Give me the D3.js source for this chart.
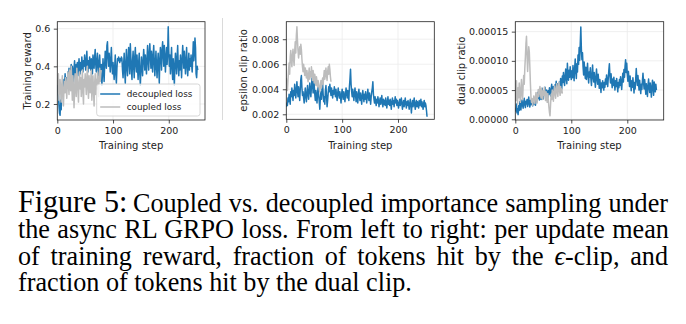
<!DOCTYPE html>
<html>
<head>
<meta charset="utf-8">
<script src="https://cdn.jsdelivr.net/npm/d3@7"></script>
<style>
  body { margin: 0; background: #fff; }
  svg { display: block; }
</style>
</head>
<body>
<svg width="686" height="324"></svg>
<script>
// ---- data (one value per training step) ----
var rewardDecoupled = [
  0.30, 0.26, 0.24, 0.19, 0.15, 0.14, 0.22, 0.17, 0.28, 0.25, 0.31, 0.27, 0.33, 0.29, 0.36, 0.30, 0.27, 0.34, 0.31, 0.37,
  0.33, 0.39, 0.35, 0.29, 0.38, 0.41, 0.34, 0.40, 0.36, 0.31, 0.39, 0.43, 0.37, 0.33, 0.41, 0.38, 0.42, 0.35, 0.40, 0.44,
  0.39, 0.36, 0.42, 0.38, 0.45, 0.41, 0.37, 0.43, 0.40, 0.46, 0.42, 0.38, 0.44, 0.48, 0.41, 0.37, 0.43, 0.39, 0.45, 0.41,
  0.38, 0.44, 0.40, 0.36, 0.46, 0.42, 0.39, 0.45, 0.49, 0.41, 0.37, 0.43, 0.47, 0.40, 0.35, 0.42, 0.46, 0.39, 0.33, 0.41,
  0.30, 0.36, 0.44, 0.38, 0.32, 0.41, 0.48, 0.43, 0.39, 0.51, 0.53, 0.45, 0.40, 0.47, 0.42, 0.37, 0.44, 0.50, 0.41, 0.36,
  0.42, 0.38, 0.33, 0.40, 0.46, 0.36, 0.31, 0.39, 0.44, 0.43, 0.45, 0.44, 0.42, 0.44, 0.43, 0.45, 0.44, 0.38, 0.34, 0.41,
  0.47, 0.37, 0.31, 0.42, 0.49, 0.39, 0.35, 0.44, 0.50, 0.42, 0.36, 0.52, 0.45, 0.38, 0.33, 0.43, 0.48, 0.40, 0.34, 0.45,
  0.50, 0.41, 0.37, 0.46, 0.39, 0.33, 0.42, 0.47, 0.36, 0.30, 0.38, 0.45, 0.40, 0.35, 0.43, 0.49, 0.44, 0.38, 0.46, 0.41,
  0.36, 0.44, 0.51, 0.43, 0.38, 0.47, 0.52, 0.45, 0.39, 0.48, 0.43, 0.37, 0.46, 0.51, 0.42, 0.35, 0.41, 0.48, 0.40, 0.34,
  0.42, 0.47, 0.39, 0.31, 0.44, 0.50, 0.45, 0.38, 0.49, 0.53, 0.46, 0.40, 0.51, 0.44, 0.37, 0.45, 0.50, 0.41, 0.47, 0.61,
  0.48, 0.40, 0.46, 0.36, 0.43, 0.50, 0.39, 0.33, 0.44, 0.38, 0.30, 0.41, 0.47, 0.42, 0.36, 0.45, 0.51, 0.40, 0.35, 0.43,
  0.38, 0.46, 0.41, 0.34, 0.44, 0.51, 0.45, 0.39, 0.48, 0.42, 0.36, 0.43, 0.50, 0.40, 0.35, 0.41, 0.47, 0.38, 0.44, 0.40,
  0.46, 0.41, 0.37, 0.45, 0.53, 0.43, 0.47, 0.55, 0.50, 0.36, 0.34, 0.40, 0.38
];
var rewardCoupled = [
  0.25, 0.31, 0.36, 0.22, 0.29, 0.33, 0.27, 0.21, 0.30, 0.35, 0.24, 0.19, 0.28, 0.32, 0.26, 0.34, 0.29, 0.23, 0.31, 0.37,
  0.30, 0.25, 0.38, 0.33, 0.27, 0.40, 0.31, 0.22, 0.35, 0.29, 0.18, 0.26, 0.36, 0.30, 0.24, 0.39, 0.33, 0.27, 0.21, 0.32,
  0.37, 0.28, 0.34, 0.24, 0.30, 0.38, 0.26, 0.20, 0.33, 0.29, 0.36, 0.31, 0.25, 0.34, 0.40, 0.28, 0.23, 0.35, 0.30, 0.26,
  0.33, 0.38, 0.22, 0.29, 0.35, 0.27, 0.19, 0.31, 0.36, 0.25, 0.33, 0.28, 0.37, 0.30, 0.24, 0.34, 0.39, 0.32, 0.36, 0.38
];
var epsDecoupled = [
  0.0026, 0.0029, 0.0027, 0.0033, 0.0030, 0.0036, 0.0032, 0.0028, 0.0038, 0.0034, 0.0041, 0.0036, 0.0031, 0.0039, 0.0035, 0.0044, 0.0038, 0.0033, 0.0040, 0.0046,
  0.0039, 0.0034, 0.0042, 0.0037, 0.0031, 0.0040, 0.0048, 0.0051, 0.0041, 0.0035, 0.0038, 0.0033, 0.0029, 0.0036, 0.0041, 0.0034, 0.0030, 0.0037, 0.0043, 0.0036,
  0.0032, 0.0039, 0.0045, 0.0038, 0.0034, 0.0042, 0.0049, 0.0044, 0.0037, 0.0050, 0.0043, 0.0036, 0.0031, 0.0039, 0.0034, 0.0029, 0.0037, 0.0042, 0.0035, 0.0030,
  0.0024, 0.0033, 0.0038, 0.0032, 0.0041, 0.0045, 0.0036, 0.0030, 0.0034, 0.0028, 0.0039, 0.0043, 0.0035, 0.0026, 0.0031, 0.0037, 0.0042, 0.0038, 0.0044, 0.0039,
  0.0035, 0.0041, 0.0037, 0.0033, 0.0039, 0.0036, 0.0042, 0.0038, 0.0034, 0.0040, 0.0035, 0.0031, 0.0037, 0.0041, 0.0036, 0.0033, 0.0038, 0.0034, 0.0029, 0.0036,
  0.0040, 0.0035, 0.0032, 0.0038, 0.0034, 0.0030, 0.0036, 0.0041, 0.0037, 0.0033, 0.0039, 0.0035, 0.0031, 0.0042, 0.0048, 0.0056, 0.0044, 0.0038, 0.0034, 0.0040,
  0.0036, 0.0031, 0.0037, 0.0041, 0.0035, 0.0030, 0.0038, 0.0034, 0.0029, 0.0036, 0.0040, 0.0034, 0.0031, 0.0037, 0.0033, 0.0028, 0.0035, 0.0039, 0.0034, 0.0030,
  0.0036, 0.0032, 0.0038, 0.0033, 0.0029, 0.0035, 0.0040, 0.0034, 0.0031, 0.0037, 0.0033, 0.0028, 0.0034, 0.0038, 0.0041, 0.0046, 0.0036, 0.0032, 0.0029, 0.0034,
  0.0030, 0.0027, 0.0032, 0.0029, 0.0034, 0.0031, 0.0026, 0.0030, 0.0033, 0.0028, 0.0031, 0.0035, 0.0029, 0.0026, 0.0032, 0.0028, 0.0031, 0.0027, 0.0033, 0.0029,
  0.0025, 0.0030, 0.0034, 0.0028, 0.0031, 0.0027, 0.0032, 0.0029, 0.0024, 0.0030, 0.0033, 0.0028, 0.0031, 0.0026, 0.0030, 0.0034, 0.0029, 0.0032, 0.0027, 0.0031,
  0.0028, 0.0025, 0.0029, 0.0032, 0.0027, 0.0030, 0.0033, 0.0028, 0.0024, 0.0029, 0.0031, 0.0026, 0.0030, 0.0033, 0.0028, 0.0025, 0.0030, 0.0027, 0.0031, 0.0028,
  0.0024, 0.0029, 0.0032, 0.0027, 0.0021, 0.0028, 0.0031, 0.0026, 0.0030, 0.0033, 0.0027, 0.0024, 0.0029, 0.0031, 0.0026, 0.0030, 0.0028, 0.0025, 0.0031, 0.0027,
  0.0029, 0.0032, 0.0026, 0.0030, 0.0027, 0.0024, 0.0029, 0.0031, 0.0026, 0.0029, 0.0027, 0.0023, 0.0018
];
var epsCoupled = [
  0.0049, 0.0044, 0.0039, 0.0047, 0.0055, 0.0061, 0.0052, 0.0066, 0.0071, 0.0063, 0.0058, 0.0067, 0.0072, 0.0064, 0.0059, 0.0070, 0.0078, 0.0069, 0.0083, 0.0090,
  0.0079, 0.0071, 0.0065, 0.0070, 0.0074, 0.0068, 0.0076, 0.0072, 0.0064, 0.0058, 0.0054, 0.0060, 0.0056, 0.0051, 0.0057, 0.0053, 0.0049, 0.0055, 0.0050, 0.0046,
  0.0052, 0.0057, 0.0048, 0.0054, 0.0050, 0.0058, 0.0053, 0.0047, 0.0055, 0.0051, 0.0045, 0.0052, 0.0048, 0.0043, 0.0050, 0.0046, 0.0042, 0.0047, 0.0044, 0.0040,
  0.0038, 0.0043, 0.0047, 0.0041, 0.0045, 0.0049, 0.0044, 0.0050, 0.0055, 0.0048, 0.0052, 0.0057, 0.0051, 0.0047, 0.0054, 0.0058, 0.0052, 0.0060, 0.0056, 0.0050, 0.0046
];
var dualDecoupled = [
  2.0e-5, 1.4e-5, 2.6e-5, 1.1e-5, 1.8e-5, 0.8e-5, 2.3e-5, 1.5e-5, 3.0e-5, 2.2e-5, 1.6e-5, 2.7e-5, 3.3e-5, 2.4e-5, 1.9e-5, 2.9e-5, 3.6e-5, 2.5e-5, 2.0e-5, 3.1e-5,
  2.6e-5, 3.4e-5, 2.2e-5, 2.9e-5, 3.8e-5, 2.7e-5, 2.1e-5, 3.2e-5, 2.5e-5, 3.5e-5, 2.8e-5, 2.3e-5, 3.1e-5, 2.6e-5, 3.7e-5, 3.0e-5, 2.4e-5, 3.3e-5, 4.0e-5, 3.2e-5,
  4.6e-5, 3.6e-5, 4.2e-5, 3.3e-5, 4.8e-5, 4.0e-5, 3.4e-5, 4.5e-5, 5.3e-5, 4.1e-5, 3.5e-5, 4.7e-5, 4.2e-5, 5.5e-5, 4.6e-5, 3.9e-5, 5.0e-5, 4.4e-5, 3.7e-5, 4.9e-5,
  4.3e-5, 5.4e-5, 4.7e-5, 4.0e-5, 5.2e-5, 6.0e-5, 4.8e-5, 4.2e-5, 5.6e-5, 5.0e-5, 4.4e-5, 5.9e-5, 5.1e-5, 6.5e-5, 5.3e-5, 4.6e-5, 6.1e-5, 5.4e-5, 4.9e-5, 6.4e-5,
  5.6e-5, 7.0e-5, 6.0e-5, 5.2e-5, 7.4e-5, 6.3e-5, 8.0e-5, 6.6e-5, 5.8e-5, 7.5e-5, 8.6e-5, 6.9e-5, 6.1e-5, 9.6e-5, 7.8e-5, 6.7e-5, 8.4e-5, 7.2e-5, 9.0e-5, 7.6e-5,
  6.8e-5, 8.3e-5, 7.1e-5, 9.2e-5, 7.9e-5, 6.6e-5, 8.8e-5, 10.3e-5, 8.2e-5, 7.0e-5, 9.5e-5, 8.1e-5, 11.0e-5, 9.4e-5, 12.3e-5, 10.1e-5, 13.0e-5, 15.8e-5, 12.0e-5, 10.2e-5,
  11.4e-5, 9.0e-5, 7.6e-5, 9.8e-5, 8.3e-5, 7.0e-5, 8.9e-5, 6.8e-5, 7.9e-5, 9.6e-5, 7.4e-5, 6.2e-5, 8.1e-5, 7.2e-5, 8.8e-5, 6.9e-5, 5.8e-5, 7.6e-5, 9.3e-5, 7.3e-5,
  6.4e-5, 8.0e-5, 6.7e-5, 5.5e-5, 7.1e-5, 8.6e-5, 7.0e-5, 6.0e-5, 7.7e-5, 6.5e-5, 5.3e-5, 6.8e-5, 5.9e-5, 4.6e-5, 6.2e-5, 5.4e-5, 6.6e-5, 5.7e-5, 5.0e-5, 6.3e-5,
  5.5e-5, 6.9e-5, 6.0e-5, 7.6e-5, 6.4e-5, 5.6e-5, 7.0e-5, 8.4e-5, 9.5e-5, 7.4e-5, 6.2e-5, 7.8e-5, 6.5e-5, 5.4e-5, 6.9e-5, 5.8e-5, 7.2e-5, 6.1e-5, 5.0e-5, 6.6e-5,
  5.6e-5, 7.0e-5, 5.9e-5, 4.7e-5, 6.3e-5, 5.4e-5, 6.8e-5, 5.8e-5, 7.3e-5, 6.2e-5, 5.1e-5, 6.7e-5, 7.9e-5, 6.4e-5, 8.5e-5, 7.2e-5, 9.1e-5, 10.2e-5, 8.0e-5, 9.6e-5,
  7.7e-5, 6.5e-5, 8.2e-5, 6.9e-5, 5.6e-5, 7.4e-5, 6.1e-5, 4.9e-5, 6.6e-5, 5.5e-5, 7.1e-5, 5.9e-5, 4.5e-5, 6.3e-5, 5.2e-5, 6.9e-5, 8.7e-5, 7.0e-5, 5.8e-5, 7.5e-5,
  6.2e-5, 5.0e-5, 6.7e-5, 5.6e-5, 4.4e-5, 6.0e-5, 5.1e-5, 6.6e-5, 7.9e-5, 6.3e-5, 5.2e-5, 6.8e-5, 5.7e-5, 4.3e-5, 6.1e-5, 5.0e-5, 3.9e-5, 5.8e-5, 6.9e-5, 5.4e-5,
  4.6e-5, 6.2e-5, 5.1e-5, 3.8e-5, 5.6e-5, 6.7e-5, 5.2e-5, 4.1e-5, 6.4e-5, 5.5e-5, 4.7e-5, 6.0e-5, 5.0e-5
];
var dualCoupled = [
  5.0e-5, 3.2e-5, 6.6e-5, 4.1e-5, 2.6e-5, 5.4e-5, 3.7e-5, 6.2e-5, 4.5e-5, 2.9e-5, 5.1e-5, 6.8e-5, 4.3e-5, 3.4e-5, 5.7e-5, 7.5e-5, 6.0e-5, 8.8e-5, 10.6e-5, 12.9e-5,
  14.2e-5, 11.0e-5, 8.2e-5, 10.3e-5, 12.4e-5, 11.6e-5, 8.9e-5, 6.1e-5, 3.8e-5, 2.9e-5, 3.5e-5, 2.4e-5, 3.1e-5, 4.0e-5, 3.3e-5, 2.7e-5, 3.8e-5, 4.6e-5, 3.5e-5, 2.8e-5,
  4.2e-5, 5.1e-5, 3.9e-5, 4.8e-5, 5.6e-5, 4.4e-5, 3.6e-5, 5.3e-5, 4.5e-5, 3.4e-5, 4.9e-5, 4.1e-5, 5.5e-5, 4.3e-5, 3.2e-5, 4.7e-5, 3.8e-5, 2.9e-5, 4.4e-5, 3.3e-5,
  2.1e-5, 1.2e-5, 0.6e-5, 2.6e-5, 4.3e-5, 3.4e-5, 5.0e-5, 4.2e-5, 3.1e-5, 4.8e-5, 5.7e-5, 4.4e-5, 3.6e-5, 5.2e-5, 6.1e-5, 4.7e-5, 3.9e-5, 5.5e-5, 6.4e-5, 4.9e-5,
  4.1e-5, 5.6e-5, 4.6e-5, 5.2e-5, 4.4e-5
];

var xTicks = [0, 100, 200];
var rewardTicks = [0.2, 0.4, 0.6];
var epsTicks = [0.002, 0.004, 0.006, 0.008];
var dualTicks = [0, 0.00005, 0.0001, 0.00015];
var dualTickLabels = ["0.00000", "0.00005", "0.00010", "0.00015"];
var seriesNames = ["decoupled loss", "coupled loss"];

var captionLines = [
  "Coupled vs. decoupled importance sampling under",
  "the async RL GRPO loss. From left to right: per update mean",
  "of training reward, fraction of tokens hit by the ",
  "fraction of tokens hit by the dual clip."
];

var blue = "#1f77b4", grey = "#bdbdbd";
var svg = d3.select("svg");

var panels = [
  { left: 57.3, right: 205, top: 21.7, bottom: 120, ydom: [0.115, 0.637],
    yticks: rewardTicks, fmt: d3.format(".1f"), ylabel: "Training reward", ylabelX: 27,
    dec: rewardDecoupled, cou: rewardCoupled, legend: true },
  { left: 286.3, right: 434.3, top: 21.7, bottom: 119.3, ydom: [0.0016, 0.0094],
    yticks: epsTicks, fmt: d3.format(".3f"), ylabel: "epsilon clip ratio", ylabelX: 243,
    dec: epsDecoupled, cou: epsCoupled },
  { left: 515.3, right: 663.7, top: 21.7, bottom: 120, ydom: [-0.0000012, 0.000167],
    yticks: dualTicks, fmt: function(d, i) { return dualTickLabels[i]; }, ylabel: "dual clip ratio", ylabelX: 461,
    dec: dualDecoupled, cou: dualCoupled }
];

panels.forEach(function(p, k) {
  var x = d3.scaleLinear().domain([0, 265]).range([p.left, p.right]);
  var y = d3.scaleLinear().domain(p.ydom).range([p.bottom, p.top]);
  var g = svg.append("g");

  // grid
  g.append("g").selectAll("line").data(xTicks).enter().append("line")
      .attr("x1", x).attr("x2", x).attr("y1", p.top).attr("y2", p.bottom)
      .style("stroke", "#ebebeb").style("stroke-width", 0.8);
  g.append("g").selectAll("line").data(p.yticks).enter().append("line")
      .attr("x1", p.left).attr("x2", p.right).attr("y1", y).attr("y2", y)
      .style("stroke", "#ebebeb").style("stroke-width", 0.8);

  g.append("clipPath").attr("id", "clip" + k).append("rect")
      .attr("x", p.left).attr("y", p.top)
      .attr("width", p.right - p.left).attr("height", p.bottom - p.top);

  var line = d3.line().x(function(d, i) { return x(i); }).y(function(d) { return y(d); });
  var lines = g.append("g").attr("clip-path", "url(#clip" + k + ")");
  lines.append("path").datum(p.dec).attr("d", line)
      .style("fill", "none").style("stroke", blue).style("stroke-width", 1.5).style("stroke-linejoin", "round");
  lines.append("path").datum(p.cou).attr("d", line)
      .style("fill", "none").style("stroke", grey).style("stroke-width", 1.5).style("stroke-linejoin", "round");

  // axes
  var xAxis = d3.axisBottom(x).tickValues(xTicks).tickSize(3.5).tickPadding(3.5).tickFormat(d3.format("d"));
  var yAxis = d3.axisLeft(y).tickValues(p.yticks).tickSize(3.5).tickPadding(3.5).tickFormat(p.fmt);
  g.append("g").attr("transform", "translate(0," + p.bottom + ")").call(xAxis);
  g.append("g").attr("transform", "translate(" + p.left + ",0)").call(yAxis);
  g.selectAll(".domain").remove();
  g.selectAll(".tick line").style("stroke", "#222").style("stroke-width", 0.8);
  g.selectAll(".tick text").style("font-family", "DejaVu Sans").style("font-size", "9.5px").style("fill", "#222");

  g.append("rect").attr("x", p.left).attr("y", p.top)
      .attr("width", p.right - p.left).attr("height", p.bottom - p.top)
      .style("fill", "none").style("stroke", "#222").style("stroke-width", 0.8);

  g.append("text")
      .attr("transform", "translate(" + p.ylabelX + "," + (p.top + p.bottom) / 2 + ") rotate(-90)")
      .attr("text-anchor", "middle").attr("dominant-baseline", "central")
      .style("font-family", "DejaVu Sans").style("font-size", "10px").style("fill", "#222")
      .text(p.ylabel);
  g.append("text")
      .attr("x", (p.left + p.right) / 2).attr("y", 149)
      .attr("text-anchor", "middle")
      .style("font-family", "DejaVu Sans").style("font-size", "10px").style("fill", "#222")
      .text("Training step");

  if (p.legend) {
    var lg = g.append("g").attr("transform", "translate(" + (p.right - 108.3) + "," + (p.bottom - 36) + ")");
    lg.append("rect").attr("width", 103.3).attr("height", 32).attr("rx", 2.5)
        .style("fill", "#fff").style("fill-opacity", 0.8).style("stroke", "#ccc").style("stroke-width", 0.8);
    lg.selectAll("line").data(seriesNames).enter().append("line")
        .attr("x1", 3.5).attr("x2", 23.5)
        .attr("y1", function(d, i) { return 10 + i * 13; }).attr("y2", function(d, i) { return 10 + i * 13; })
        .style("stroke", function(d, i) { return i ? grey : blue; }).style("stroke-width", 1.5);
    lg.selectAll("text").data(seriesNames).enter().append("text")
        .attr("x", 30).attr("y", function(d, i) { return 10 + i * 13; })
        .attr("dominant-baseline", "central")
        .style("font-family", "DejaVu Sans").style("font-size", "8.8px").style("fill", "#222")
        .text(function(d) { return d; });
  }
});

// separator between first and second panel
svg.append("line").attr("x1", 222.5).attr("x2", 222.5).attr("y1", 18).attr("y2", 120)
    .style("stroke", "#d0d0d0").style("stroke-width", 0.8);

// caption: slightly tall serif, justified between x=18 and x=668
var sx = 0.97;
var capW = (668 - 18) / sx, baselines = [212, 238.5, 265, 291.5];
var cap = svg.append("g").attr("transform", "translate(18,0) scale(" + sx + ",1)")
    .style("font-family", "Liberation Serif").style("fill", "#000");

cap.append("text").attr("x", 0).attr("y", baselines[0])
    .style("font-size", "31px").text("Figure 5:");
var bodyStart = (133 - 18) / sx;

function justify(t, x0, nSpaces) {
  var w = t.node().getComputedTextLength();
  t.style("word-spacing", ((capW - x0 - w) / nSpaces) + "px");
}

var l1 = cap.append("text").attr("x", bodyStart).attr("y", baselines[0]).style("font-size", "27px").text(captionLines[0]);
justify(l1, bodyStart, 5);
var l2 = cap.append("text").attr("x", 0).attr("y", baselines[1]).style("font-size", "27px").text(captionLines[1]);
justify(l2, 0, 10);
var l3 = cap.append("text").attr("x", 0).attr("y", baselines[2]).style("font-size", "27px");
l3.append("tspan").text(captionLines[2]);
l3.append("tspan").style("font-style", "italic").text("\u03f5");
l3.append("tspan").text("-clip, and");
justify(l3, 0, 10);
cap.append("text").attr("x", 0).attr("y", baselines[3]).style("font-size", "27px").text(captionLines[3]);
</script>
</body>
</html>
